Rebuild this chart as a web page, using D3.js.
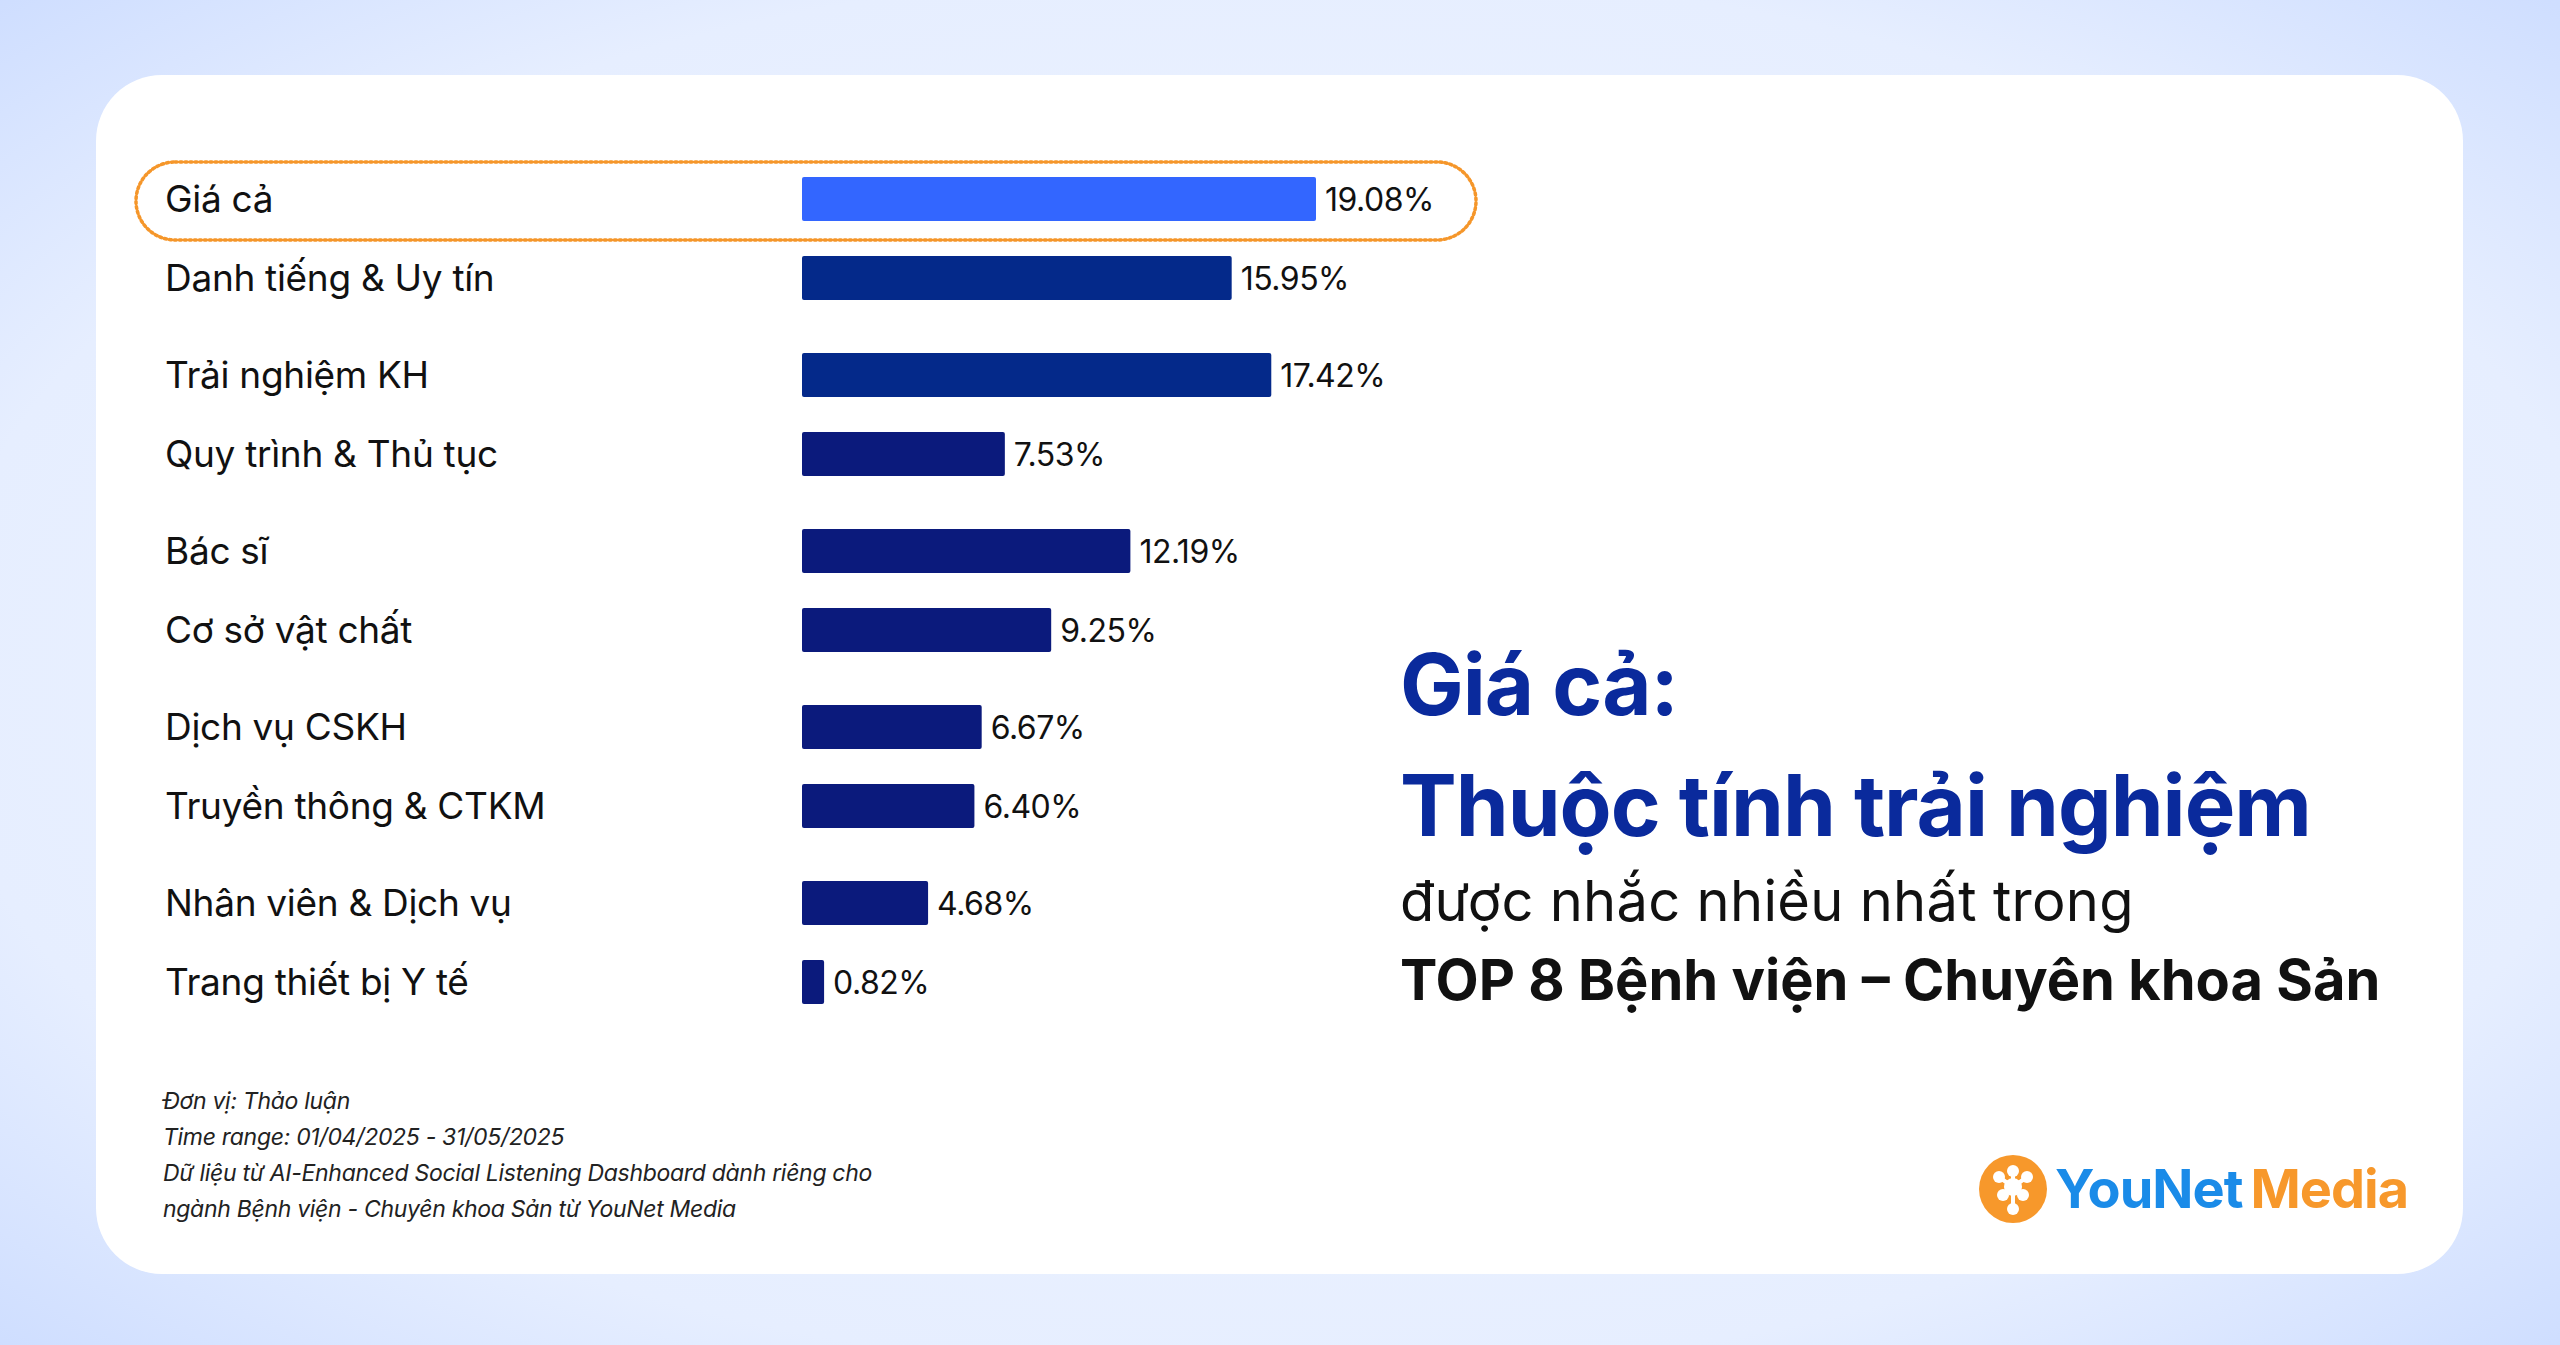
<!DOCTYPE html>
<html>
<head>
<meta charset="utf-8">
<script src="https://cdn.jsdelivr.net/npm/d3@7"></script>
<style>
  html, body { margin: 0; padding: 0; }
  body { width: 2560px; height: 1345px; overflow: hidden; }
  svg { display: block; }
</style>
</head>
<body>
<svg id="chart" width="2560" height="1345"></svg>
<script>
  // data
  var categories = ["Giá cả", "Danh tiếng & Uy tín", "Trải nghiệm KH", "Quy trình & Thủ tục", "Bác sĩ",
    "Cơ sở vật chất", "Dịch vụ CSKH", "Truyền thông & CTKM", "Nhân viên & Dịch vụ", "Trang thiết bị Y tế"];
  var values = [19.08, 15.95, 17.42, 7.53, 12.19, 9.25, 6.67, 6.40, 4.68, 0.82];
  var groups = [0, 0, 1, 1, 2, 2, 3, 3, 4, 4];
  var footnotes = ["Đơn vị: Thảo luận", "Time range: 01/04/2025 - 31/05/2025",
    "Dữ liệu từ AI-Enhanced Social Listening Dashboard dành riêng cho",
    "ngành Bệnh viện - Chuyên khoa Sản từ YouNet Media"];

  var font = "Inter, 'Open Sans', sans-serif";
  var svg = d3.select("#chart");

  // background
  var defs = svg.append("defs");
  var bg = defs.append("radialGradient").attr("id", "bg").attr("cx", "50%").attr("cy", "50%").attr("r", "75%");
  bg.append("stop").attr("offset", "0%").attr("stop-color", "#f3f7ff");
  bg.append("stop").attr("offset", "70%").attr("stop-color", "#e6eeff");
  bg.append("stop").attr("offset", "100%").attr("stop-color", "#c9daff");
  svg.append("rect").attr("width", 2560).attr("height", 1345).attr("fill", "url(#bg)");
  svg.append("rect").attr("x", 96).attr("y", 75).attr("width", 2367).attr("height", 1199)
    .attr("rx", 66).attr("fill", "#ffffff");

  // scales
  var x = d3.scaleLinear().domain([0, 19.08]).range([0, 514]);
  var barX = 802;
  // each pair sits closer together than the gap between pairs
  var rowY = categories.map(function (c, i) { return 199 + groups[i] * 176 + (i % 2) * 79; });
  var y = d3.scaleOrdinal().domain(categories).range(rowY);
  var barH = 44;

  function color(i) { return i === 0 ? "#3366ff" : (i < 3 ? "#04298a" : "#0b1a7c"); }

  // highlight box
  svg.append("rect").attr("x", 136).attr("y", 162).attr("width", 1340).attr("height", 78)
    .attr("rx", 39).attr("fill", "none").attr("stroke", "#f5962a")
    .attr("stroke-width", 3.5).attr("stroke-dasharray", "2 3").attr("stroke-linecap", "round");

  var rows = svg.append("g").selectAll("g").data(categories).join("g")
    .attr("transform", function (d) { return "translate(0," + y(d) + ")"; });

  rows.append("text").attr("x", 165).attr("dy", "0.36em")
    .attr("font-family", font).attr("font-size", 37).attr("letter-spacing", -0.3).attr("fill", "#111")
    .text(function (d) { return d; });

  rows.append("rect").attr("x", barX).attr("y", -barH / 2).attr("height", barH)
    .attr("width", function (d, i) { return x(values[i]); })
    .attr("rx", 2).attr("fill", function (d, i) { return color(i); });

  rows.append("text").attr("x", function (d, i) { return barX + x(values[i]) + 9; })
    .attr("dy", "0.36em").attr("font-family", font).attr("font-size", 32).attr("letter-spacing", -0.5).attr("fill", "#111")
    .text(function (d, i) { return values[i].toFixed(2) + "%"; });

  // headline
  var t = svg.append("g").attr("font-family", font);
  t.append("text").attr("x", 1400).attr("y", 715).attr("font-size", 85).attr("font-weight", 700)
    .attr("fill", "#0a2a9c").attr("letter-spacing", -1).text("Giá cả:");
  t.append("text").attr("x", 1400).attr("y", 836).attr("font-size", 85).attr("font-weight", 700)
    .attr("fill", "#0a2a9c").attr("letter-spacing", -1).text("Thuộc tính trải nghiệm");
  t.append("text").attr("x", 1400).attr("y", 921).attr("font-size", 56).attr("fill", "#111")
    .attr("letter-spacing", 0.3).text("được nhắc nhiều nhất trong");
  t.append("text").attr("x", 1400).attr("y", 1000).attr("font-size", 56).attr("font-weight", 700)
    .attr("fill", "#111").text("TOP 8 Bệnh viện – Chuyên khoa Sản");

  // footnotes
  svg.append("g").selectAll("text").data(footnotes).join("text")
    .attr("x", 163).attr("y", function (d, i) { return 1109 + i * 36; })
    .attr("font-family", font).attr("font-size", 23).attr("font-style", "italic").attr("fill", "#222")
    .attr("letter-spacing", -0.3).text(function (d) { return d; });

  // logo
  var logo = svg.append("g").attr("transform", "translate(2013,1189)");
  logo.append("circle").attr("r", 34).attr("fill", "#f7982b");
  [[-14, -12], [14, -12], [0, -18], [-10, 6], [10, 6], [0, 20]].forEach(function (p) {
    logo.append("line").attr("x1", 0).attr("y1", -2).attr("x2", p[0]).attr("y2", p[1])
      .attr("stroke", "#fff").attr("stroke-width", 4);
    logo.append("circle").attr("cx", p[0]).attr("cy", p[1]).attr("r", 6).attr("fill", "#fff");
  });
  logo.append("circle").attr("cx", 0).attr("cy", -2).attr("r", 9).attr("fill", "#fff");
  var lt = logo.append("text").attr("x", 42).attr("y", 19).attr("font-family", font)
    .attr("font-size", 54).attr("font-weight", 700).attr("letter-spacing", -1);
  lt.append("tspan").attr("fill", "#1a8be8").text("YouNet");
  lt.append("tspan").attr("fill", "#f7982b").attr("dx", 8).text("Media");
</script>
</body>
</html>
